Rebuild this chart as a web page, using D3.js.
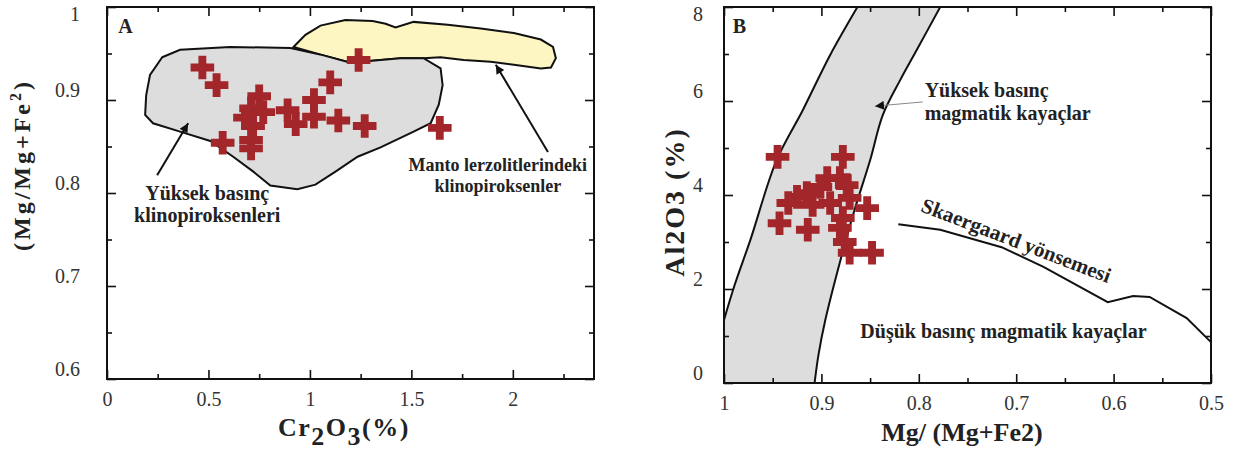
<!DOCTYPE html>
<html>
<head>
<meta charset="utf-8">
<script src="https://cdn.jsdelivr.net/npm/d3@7"></script>
<style>
  body { margin: 0; background: #fff; }
  svg text { font-family: "Liberation Serif", "Times New Roman", serif; }
</style>
</head>
<body>
<svg id="chart" width="1236" height="457"></svg>
<script>
// ---- panel A : Cr2O3 vs Mg/(Mg+Fe2) ----
const aCr = [0.47, 0.54, 0.75, 0.71, 0.77, 0.68, 0.72, 0.71, 0.57, 0.71, 0.89, 0.93, 1.02, 1.10, 1.02, 1.14, 1.27, 1.24, 1.64];
const aMg = [0.935, 0.916, 0.904, 0.891, 0.887, 0.881, 0.872, 0.857, 0.854, 0.848, 0.889, 0.874, 0.900, 0.919, 0.882, 0.878, 0.872, 0.943, 0.870];

// field of high pressure clinopyroxenes (grey)
const aHighField = [[0.272, 0.946], [0.360, 0.954], [0.607, 0.957], [0.904, 0.956], [1.067, 0.948], [1.200, 0.940],
  [1.348, 0.943], [1.447, 0.945], [1.560, 0.945], [1.644, 0.934], [1.654, 0.916], [1.635, 0.895], [1.595, 0.875],
  [1.511, 0.866], [1.348, 0.849], [1.235, 0.839], [1.126, 0.823], [1.027, 0.809], [0.938, 0.804], [0.805, 0.808],
  [0.721, 0.823], [0.622, 0.839], [0.509, 0.856], [0.360, 0.866], [0.227, 0.875], [0.188, 0.884], [0.193, 0.905],
  [0.212, 0.927]];
// field of mantle lherzolite clinopyroxenes (yellow)
const aMantleField = [[0.919, 0.957], [0.978, 0.970], [1.052, 0.980], [1.175, 0.986], [1.309, 0.985], [1.373, 0.982],
  [1.422, 0.978], [1.511, 0.984], [1.679, 0.981], [1.842, 0.977], [2.005, 0.972], [2.138, 0.965], [2.198, 0.957],
  [2.212, 0.945], [2.188, 0.935], [2.138, 0.934], [2.005, 0.938], [1.891, 0.941], [1.758, 0.943], [1.644, 0.946],
  [1.560, 0.945], [1.447, 0.945], [1.348, 0.943], [1.200, 0.940], [1.067, 0.948]];

const aXMajor = [0, 0.5, 1, 1.5, 2];
const aXMinor = [0.25, 0.75, 1.25, 1.75, 2.25];
const aYMajor = [0.6, 0.7, 0.8, 0.9, 1];
const aYMinor = [0.65, 0.75, 0.85, 0.95];

// ---- panel B : Mg/(Mg+Fe2) vs Al2O3 ----
const bMg = [0.945, 0.878, 0.894, 0.881, 0.874, 0.901, 0.925, 0.915, 0.934, 0.909, 0.891, 0.871, 0.853, 0.878, 0.943, 0.914, 0.881, 0.876, 0.871, 0.848];
const bAl = [4.81, 4.81, 4.36, 4.36, 4.21, 4.17, 3.96, 4.04, 3.83, 3.79, 3.83, 3.94, 3.72, 3.51, 3.40, 3.26, 3.30, 3.00, 2.77, 2.77];

const bLeftEdge = [[1.0, 1.34], [0.989, 2.09], [0.973, 3.04], [0.946, 4.74], [0.919, 5.81], [0.891, 6.98], [0.863, 8]];
const bRightEdge = [[0.778, 8], [0.802, 7.09], [0.819, 6.45], [0.837, 5.70], [0.850, 4.74], [0.866, 3.68],
  [0.881, 2.57], [0.896, 1.34], [0.903, 0.60], [0.907, 0]];
const bSkaergaard = [[0.821, 3.38], [0.778, 3.26], [0.715, 2.89], [0.672, 2.47], [0.606, 1.72], [0.580, 1.85],
  [0.563, 1.83], [0.525, 1.38], [0.5, 0.87]];

const bXMajor = [1, 0.9, 0.8, 0.7, 0.6, 0.5];
const bXMinor = [0.95, 0.85, 0.75, 0.65, 0.55];
const bYMajor = [0, 2, 4, 6, 8];
const bYMinor = [1, 3, 5, 7];

const crossColor = "#a3262a";
const svg = d3.select("#chart");

svg.append("defs").append("marker")
  .attr("id", "arrow")
  .attr("viewBox", "0 0 10 10")
  .attr("refX", 10).attr("refY", 5)
  .attr("markerWidth", 13).attr("markerHeight", 9)
  .attr("markerUnits", "userSpaceOnUse")
  .attr("orient", "auto")
  .append("path").attr("d", "M0,0L10,5L0,10z").attr("fill", "#111");

// draws the box with inward ticks on all four sides
function drawFrame(x, y, xMajor, xMinor, yMajor, yMinor, xFmt, yFmt, yLabelGap) {
  const [x0, x1] = x.range();
  const [y0, y1] = y.range();
  const g = svg.append("g");

  const bottom = g.append("g").attr("transform", `translate(0,${y0})`)
    .call(d3.axisBottom(x).tickValues(xMajor).tickSizeInner(-9).tickSizeOuter(0).tickFormat(xFmt));
  bottom.selectAll("text").attr("y", 27).attr("dy", null);
  g.append("g").attr("transform", `translate(0,${y0})`)
    .call(d3.axisBottom(x).tickValues(xMinor).tickSizeInner(-5).tickSizeOuter(0).tickFormat(""));
  g.append("g").attr("transform", `translate(0,${y1})`)
    .call(d3.axisTop(x).tickValues(xMajor).tickSizeInner(-9).tickSizeOuter(0).tickFormat(""));
  g.append("g").attr("transform", `translate(0,${y1})`)
    .call(d3.axisTop(x).tickValues(xMinor).tickSizeInner(-5).tickSizeOuter(0).tickFormat(""));

  const left = g.append("g").attr("transform", `translate(${x0},0)`)
    .call(d3.axisLeft(y).tickValues(yMajor).tickSizeInner(-9).tickSizeOuter(0).tickFormat(yFmt));
  // top label would be cut by the page edge, so it sits under its tick
  left.selectAll("text").attr("x", -yLabelGap).attr("dy", d => y(d) < 20 ? 13 : -4);
  g.append("g").attr("transform", `translate(${x0},0)`)
    .call(d3.axisLeft(y).tickValues(yMinor).tickSizeInner(-5).tickSizeOuter(0).tickFormat(""));
  g.append("g").attr("transform", `translate(${x1},0)`)
    .call(d3.axisRight(y).tickValues(yMajor).tickSizeInner(-9).tickSizeOuter(0).tickFormat(""));
  g.append("g").attr("transform", `translate(${x1},0)`)
    .call(d3.axisRight(y).tickValues(yMinor).tickSizeInner(-5).tickSizeOuter(0).tickFormat(""));

  g.selectAll(".domain").remove();
  g.selectAll(".tick line").attr("stroke", "#111").attr("stroke-width", 1.6);
  g.selectAll(".tick text").attr("font-size", 20).attr("fill", "#333")
    .attr("font-family", "Liberation Serif, Times New Roman, serif");

  g.append("rect")
    .attr("x", Math.min(x0, x1)).attr("y", y1)
    .attr("width", Math.abs(x1 - x0)).attr("height", y0 - y1)
    .attr("fill", "none").attr("stroke", "#111").attr("stroke-width", 2);
}

function drawCrosses(x, y, xs, ys) {
  svg.append("g").selectAll("path")
    .data(xs.map((v, i) => [v, ys[i]]))
    .join("path")
    .attr("transform", d => `translate(${x(d[0])},${y(d[1])})`)
    .attr("d", d3.symbol(d3.symbolCross, 310))
    .attr("fill", crossColor);
}

function note(x, y, lines, opts) {
  const t = svg.append("text")
    .attr("font-size", opts.size).attr("font-weight", "bold").attr("fill", "#222")
    .attr("text-anchor", opts.anchor || "start");
  lines.forEach((s, i) => {
    t.append("tspan").attr("x", x).attr("y", y + i * opts.lead).text(s);
  });
  return t;
}

function arrow(x1, y1, x2, y2, color, width) {
  svg.append("line")
    .attr("x1", x1).attr("y1", y1).attr("x2", x2).attr("y2", y2)
    .attr("stroke", color).attr("stroke-width", width)
    .attr("marker-end", "url(#arrow)");
}

// ================= panel A =================
const xA = d3.scaleLinear().domain([0, 2.4]).range([107, 594]);
const yA = d3.scaleLinear().domain([0.6, 1.0]).range([379, 7]);
const lineA = d3.line().x(d => xA(d[0])).y(d => yA(d[1])).curve(d3.curveLinearClosed);

svg.append("path").attr("d", lineA(aMantleField))
  .attr("fill", "#fdf5c2").attr("stroke", "#111").attr("stroke-width", 2);
svg.append("path").attr("d", lineA(aHighField))
  .attr("fill", "#dddddd").attr("stroke", "#111").attr("stroke-width", 2);

drawCrosses(xA, yA, aCr, aMg);
drawFrame(xA, yA, aXMajor, aXMinor, aYMajor, aYMinor,
  d => d === 0 ? "0" : String(d), d => d === 1 ? "1" : d.toFixed(1), 27);

svg.append("text").attr("x", xA(0.055)).attr("y", yA(0.972))
  .attr("font-size", 20).attr("font-weight", "bold").attr("fill", "#222").text("A");

note(xA(0.494), yA(0.792), ["Yüksek basınç", "klinopiroksenleri"], { size: 20, lead: 22, anchor: "middle" });
note(xA(1.926), yA(0.824), ["Manto lerzolitlerindeki", "klinopiroksenler"], { size: 18, lead: 21, anchor: "middle" });
arrow(xA(0.247), yA(0.819), xA(0.400), yA(0.875), "#111", 2);
arrow(xA(2.173), yA(0.844), xA(1.916), yA(0.938), "#111", 2);

// axis titles A
const axTA = svg.append("text").attr("x", 278).attr("y", 436)
  .attr("font-size", 26).attr("font-weight", "bold").attr("fill", "#222").attr("letter-spacing", 1.5);
axTA.append("tspan").text("Cr");
axTA.append("tspan").attr("dy", 9).text("2");
axTA.append("tspan").attr("dy", -9).text("O");
axTA.append("tspan").attr("dy", 9).text("3");
axTA.append("tspan").attr("dy", -9).text("(%)");

const ayTA = svg.append("text")
  .attr("transform", "translate(30,165) rotate(-90)")
  .attr("text-anchor", "middle")
  .attr("font-size", 24).attr("font-weight", "bold").attr("fill", "#222").attr("letter-spacing", 3);
ayTA.append("tspan").text("(Mg/Mg+Fe");
ayTA.append("tspan").attr("dy", -9).attr("font-size", 16).text("2");
ayTA.append("tspan").attr("dy", 9).text(")");

// ================= panel B =================
const xB = d3.scaleLinear().domain([1, 0.5]).range([724, 1211]);
const yB = d3.scaleLinear().domain([0, 8]).range([383, 7]);
const lineB = d3.line().x(d => xB(d[0])).y(d => yB(d[1]));

svg.append("path").attr("d", lineB([[1, 0], ...bLeftEdge, ...bRightEdge]) + "Z")
  .attr("fill", "#dddddd").attr("stroke", "none");
svg.append("path").attr("d", lineB.curve(d3.curveCatmullRom)(bLeftEdge))
  .attr("fill", "none").attr("stroke", "#111").attr("stroke-width", 2);
svg.append("path").attr("d", lineB(bRightEdge))
  .attr("fill", "none").attr("stroke", "#111").attr("stroke-width", 2);
svg.append("path").attr("d", lineB.curve(d3.curveLinear)(bSkaergaard))
  .attr("fill", "none").attr("stroke", "#111").attr("stroke-width", 2);

drawCrosses(xB, yB, bMg, bAl);
drawFrame(xB, yB, bXMajor, bXMinor, bYMajor, bYMinor,
  d => d === 1 ? "1" : d.toFixed(1), d => String(d), 21);

svg.append("text").attr("x", xB(0.991)).attr("y", yB(7.45))
  .attr("font-size", 20).attr("font-weight", "bold").attr("fill", "#222").text("B");

note(xB(0.794), yB(6.09), ["Yüksek basınç", "magmatik kayaçlar"], { size: 20, lead: 23 });
arrow(xB(0.796), yB(5.98), xB(0.845), yB(5.89), "#888", 1);
note(xB(0.860), yB(0.96), ["Düşük basınç magmatik kayaçlar"], { size: 20, lead: 0 });

svg.append("text")
  .attr("transform", `translate(${xB(0.799)},${yB(3.66)}) rotate(21)`)
  .attr("font-size", 21).attr("font-weight", "bold").attr("fill", "#222")
  .text("Skaergaard yönsemesi");

svg.append("text").attr("x", 962).attr("y", 441).attr("text-anchor", "middle")
  .attr("font-size", 26).attr("font-weight", "bold").attr("fill", "#222")
  .text("Mg/ (Mg+Fe2)");

svg.append("text")
  .attr("transform", "translate(684,202) rotate(-90)")
  .attr("text-anchor", "middle")
  .attr("font-size", 28).attr("font-weight", "bold").attr("fill", "#222").attr("letter-spacing", 2)
  .text("Al2O3 (%)");
</script>
</body>
</html>
